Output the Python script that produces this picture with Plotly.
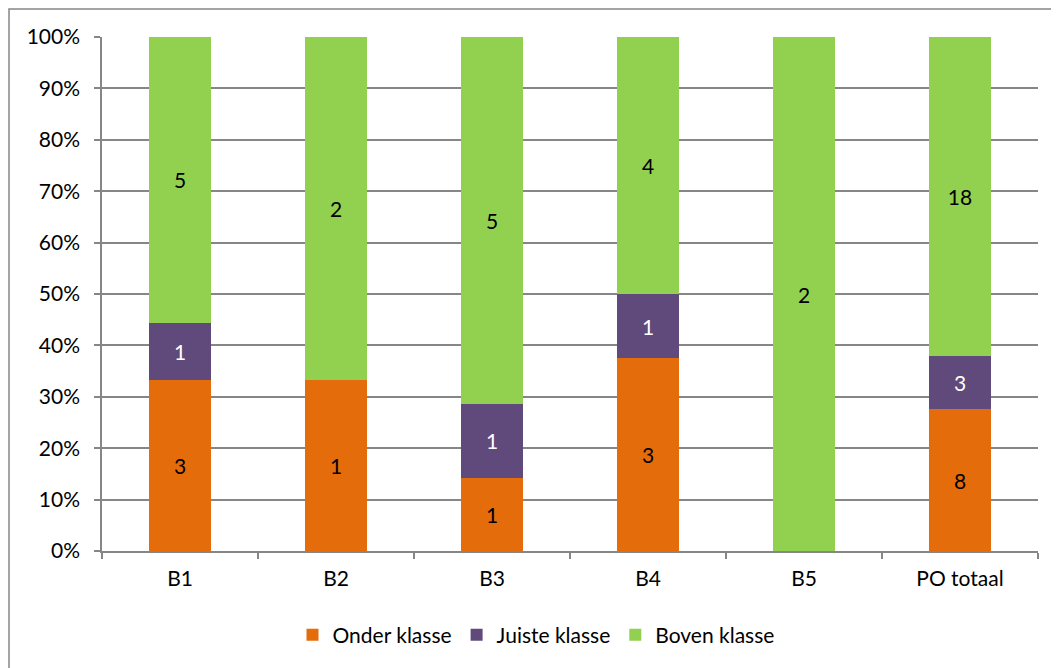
import plotly.graph_objects as go

categories = ["B1", "B2", "B3", "B4", "B5", "PO totaal"]
onder = [3, 1, 1, 3, 0, 8]
juiste = [1, 0, 1, 1, 0, 3]
boven = [5, 2, 5, 4, 2, 18]
series_names = ["Onder klasse", "Juiste klasse", "Boven klasse"]
colors = ["#E46C0A", "#604A7B", "#92D050"]
text_colors = ["black", "white", "black"]
y_ticks = [0, 0.1, 0.2, 0.3, 0.4, 0.5, 0.6, 0.7, 0.8, 0.9, 1.0]
y_tick_labels = ["0%", "10%", "20%", "30%", "40%", "50%", "60%", "70%", "80%", "90%", "100%"]

totals = [a + b + c for a, b, c in zip(onder, juiste, boven)]
FONT = "Lato"
FS = 21

fig = go.Figure()
for name, vals, col, tcol in zip(series_names, [onder, juiste, boven], colors, text_colors):
    fig.add_trace(go.Bar(
        x=categories,
        y=[v / t for v, t in zip(vals, totals)],
        name=name,
        marker=dict(color=col, line=dict(width=0)),
        text=[str(v) if v else "" for v in vals],
        textposition="inside",
        insidetextanchor="middle",
        textangle=0,
        textfont=dict(color=tcol, size=FS, family=FONT),
        constraintext="none",
        hoverinfo="skip",
    ))

# the page adds an 8px body offset, so figure coords = screen coords - 8
OFF = 8
W, H = 1059, 668
L, T = 102 - OFF, 37 - OFF
R = W - (1038 - OFF)
B = H - (551 - OFF)
PW, PH = W - L - R, H - T - B

fig.update_layout(
    barmode="stack",
    bargap=0.6,
    width=W, height=H,
    margin=dict(l=L, r=R, t=T, b=B, autoexpand=False),
    paper_bgcolor="white",
    plot_bgcolor="white",
    font=dict(family=FONT, size=FS, color="black"),
    uniformtext=dict(mode=False),
    showlegend=True,
    legend=dict(
        orientation="h",
        traceorder="normal",
        x=(536 - OFF - L) / PW, xanchor="center",
        y=-(635 - OFF - (H - B)) / PH, yanchor="middle",
        font=dict(size=FS, family=FONT),
        itemwidth=30,
        tracegroupgap=0,
    ),
    xaxis=dict(
        showline=True, linecolor="#868686", linewidth=1.5,
        ticks="outside", tickson="boundaries", ticklen=6, tickcolor="#868686", tickwidth=1.5,
        showgrid=False,
        tickfont=dict(size=FS),
        ticklabelstandoff=8,
    ),
    yaxis=dict(
        range=[0, 1],
        tickvals=y_ticks, ticktext=y_tick_labels,
        showline=True, linecolor="#868686", linewidth=1.5,
        ticks="outside", ticklen=6, tickcolor="#868686", tickwidth=1.5,
        showgrid=True, gridcolor="#868686", gridwidth=1.5,
        zeroline=False,
        tickfont=dict(size=FS),
        ticklabelstandoff=10,
    ),
    shapes=[dict(
        type="rect", xref="paper", yref="paper",
        x0=(1 - L) / PW, x1=(W + 20 - L) / PW,
        y0=-(H + 20 - (H - B)) / PH, y1=(H - B - 1) / PH,
        line=dict(color="#868686", width=1.5), fillcolor="rgba(0,0,0,0)",
        layer="below",
    )],
)

fig.write_html("out.html")
